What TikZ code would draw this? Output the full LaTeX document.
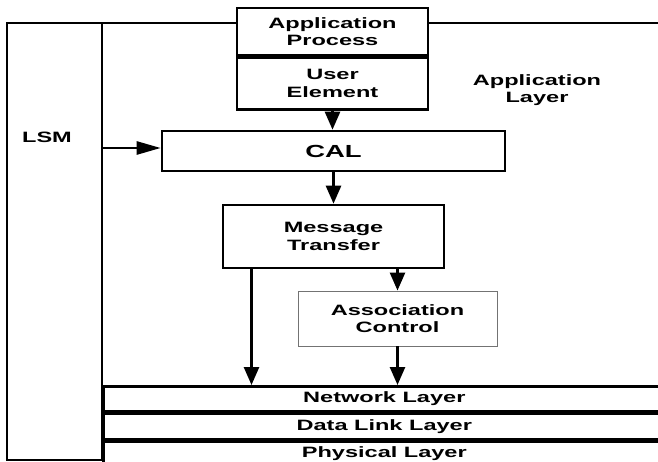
\documentclass[tikz,border=0pt]{standalone}
\usepackage{fontspec}
\setmainfont{Liberation Sans}[FakeStretch=1.57]
\usetikzlibrary{arrows.meta}
\tikzset{
  every node/.style={
    font=\fontsize{15}{17.5}\selectfont\bfseries,
    align=center,
    inner sep=0pt,
  },
  box/.style={
    draw=black,
    line width=2.6pt,
    fill=white,
  },
  thinbox/.style={
    draw=black!55,
    line width=0.9pt,
    fill=white,
  },
  layer/.style={
    box,
    minimum width=562pt,
    minimum height=25pt,
  },
  flow/.style={
    line width=2.6pt,
    -{Triangle[length=18pt,width=15pt]},
  },
}
\begin{document}
\begin{tikzpicture}[x=1pt,y=-1pt]
  \useasboundingbox (0,0) rectangle (658,462);
  \clip (0,0) rectangle (658,462);
  \draw[line width=2.6pt] (7,23) rectangle (666,460);
  \draw[line width=2.6pt] (102,23) -- (102,460);
  \node (lsm) at (47,137) {LSM};
  \node[box, minimum width=191pt, minimum height=47pt] (ap) at (332.5,31.5) {Application\\Process};
  \node[box, minimum width=191pt, minimum height=52pt, anchor=north] (ue) at (ap.south) {User\\Element};
  \node[box, minimum width=343pt, minimum height=40pt, font=\fontsize{17.5}{20}\selectfont\bfseries] (cal) at (333.5,151) {CAL};
  \node[box, minimum width=221pt, minimum height=63pt] (mt) at (333.5,236.5) {Message\\Transfer};
  \node[thinbox, minimum width=199pt, minimum height=55pt] (ac) at (397.5,318.5) {Association\\Control};
  \node[layer, anchor=north west] (net) at (102,385) {Network Layer};
  \node[layer, anchor=north] (dll) at (net.south) {Data Link Layer};
  \node[layer, anchor=north] (phy) at (dll.south) {Physical Layer};
  \node (applayer) at (537,90) {Application\\Layer};
  \coordinate (tap) at (102,148);
  \draw[flow, -{Triangle[length=24pt,width=13pt]}] (tap) -- (tap -| cal.west);
  \draw[flow] (ue.south) -- (ue.south |- cal.north);
  \draw[flow] (cal.south) -- (mt.north);
  \draw[flow] (mt.south -| ac.north) -- (ac.north);
  \draw[flow] ([xshift=-82pt]mt.south) -- ([xshift=-82pt]mt.south |- net.north);
  \draw[flow] (ac.south) -- (ac.south |- net.north);
\end{tikzpicture}
\end{document}
